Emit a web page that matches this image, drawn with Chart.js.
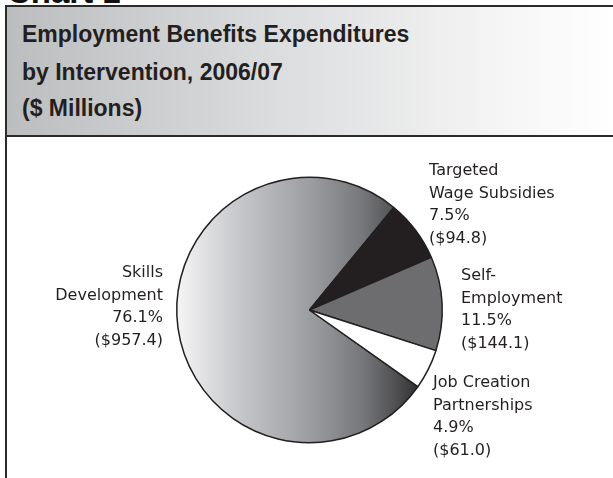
<!DOCTYPE html>
<html>
<head>
<meta charset="utf-8">
<script src="https://cdn.jsdelivr.net/npm/chart.js@4/dist/chart.umd.min.js"></script>
<style>
    html, body {
        margin: 0;
        padding: 0;
        width: 613px;
        height: 478px;
        overflow: hidden;
        background: #ffffff;
        position: relative;
    }
    #chart-no {
        position: absolute;
        left: 7px;
        top: -25px;
        font: bold 33px "Liberation Sans", Arial, sans-serif;
        color: #111;
        line-height: 33px;
    }
    #frame {
        position: absolute;
        left: 5px;
        top: 5px;
        width: 620px;
        height: 500px;
        border-left: 2px solid #2b2b2b;
        border-top: 2px solid #2b2b2b;
        box-sizing: border-box;
    }
    #header {
        position: absolute;
        left: 7px;
        top: 7px;
        width: 606px;
        height: 128px;
        border-bottom: 2px solid #2b2b2b;
        background: linear-gradient(to right, #bcbdbf 0%, #dcdddf 45%, #f4f4f4 80%, #ffffff 100%);
    }
    #header .t {
        position: absolute;
        left: 15px;
        font: bold 23px "Liberation Sans", Arial, sans-serif;
        color: #231f20;
        white-space: nowrap;
    }
    #pie {
        position: absolute;
        left: 7px;
        top: 137px;
    }
</style>
</head>
<body>
<div id="chart-no">Chart 1</div>
<div id="frame"></div>
<div id="header">
    <div class="t" style="top: 14px;">Employment Benefits Expenditures</div>
    <div class="t" style="top: 52px;">by Intervention, 2006/07</div>
    <div class="t" style="top: 88px;">($ Millions)</div>
</div>
<canvas id="pie" width="606" height="341"></canvas>
<script>
// Expenditures by intervention, $ millions
const categories = [
    ['Skills', 'Development'],
    ['Targeted', 'Wage Subsidies'],
    ['Self-', 'Employment'],
    ['Job Creation', 'Partnerships']
];
const spending = [957.4, 94.8, 144.1, 61.0];

// Label placement relative to the pie centre
const labelOffsets = [
    { dx: -146.5, dy: -37, align: 'right' },
    { dx: 119.5, dy: -139, align: 'left' },
    { dx: 151.5, dy: -34, align: 'left' },
    { dx: 123.5, dy: 73, align: 'left' }
];
const LINE_HEIGHT = 22.5;

const total = spending.reduce((a, b) => a + b, 0);

/**
 * Horizontal light-to-dark shading for the big slice
 */
function skillsFill(context) {
    const area = context.chart.chartArea;
    if (!area) return '#999999';
    const g = context.chart.ctx.createLinearGradient(area.left, 0, area.right, 0);
    g.addColorStop(0, '#f6f6f6');
    g.addColorStop(0.22, '#c9cacd');
    g.addColorStop(0.48, '#a0a1a4');
    g.addColorStop(0.7, '#76777a');
    g.addColorStop(0.84, '#4a4a4c');
    g.addColorStop(0.93, '#262425');
    g.addColorStop(1, '#231f20');
    return g;
}

const sliceColors = [null, '#231f20', '#6d6d6f', '#ffffff'];

const outsideLabels = {
    id: 'outsideLabels',
    afterDraw(chart) {
        const arc = chart.getDatasetMeta(0).data[0];
        if (!arc) return;
        const ctx = chart.ctx;
        ctx.save();
        ctx.font = '16px "DejaVu Sans", Verdana, sans-serif';
        ctx.fillStyle = '#231f20';
        ctx.textBaseline = 'middle';
        categories.forEach((name, i) => {
            const pct = (spending[i] / total * 100).toFixed(1) + '%';
            const amt = '($' + spending[i].toFixed(1) + ')';
            const lines = [...name, pct, amt];
            const off = labelOffsets[i];
            ctx.textAlign = off.align;
            lines.forEach((line, j) => {
                ctx.fillText(line, arc.x + off.dx, arc.y + off.dy + j * LINE_HEIGHT);
            });
        });
        ctx.restore();
    }
};

new Chart(document.getElementById('pie'), {
    type: 'pie',
    data: {
        labels: categories.map(c => c.join(' ')),
        datasets: [{
            data: spending,
            backgroundColor: (context) => {
                if (context.dataIndex === 0) return skillsFill(context);
                return sliceColors[context.dataIndex];
            },
            borderColor: '#231f20',
            borderWidth: 1.5
        }]
    },
    options: {
        responsive: false,
        animation: false,
        rotation: 125.3,
        layout: {
            padding: { left: 169, right: 170, top: 39.5, bottom: 34.5 }
        },
        plugins: {
            legend: { display: false },
            tooltip: { enabled: false }
        }
    },
    plugins: [outsideLabels]
});
</script>
</body>
</html>
